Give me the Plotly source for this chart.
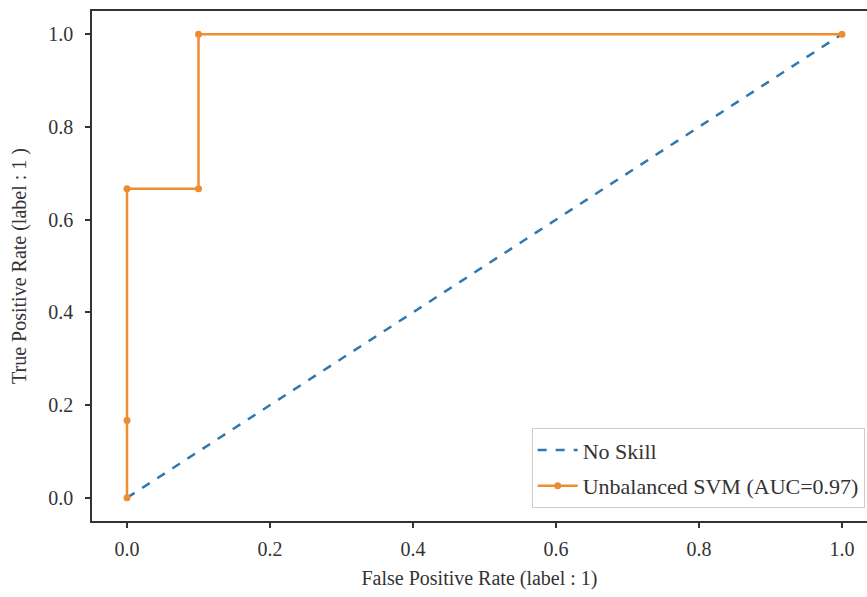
import plotly.graph_objects as go

# Data
noskill_fpr = [0.0, 1.0]
noskill_tpr = [0.0, 1.0]
svm_fpr = [0.0, 0.0, 0.0, 0.1, 0.1, 1.0]
svm_tpr = [0.0, 1/6, 2/3, 2/3, 1.0, 1.0]
tick_vals = [0.0, 0.2, 0.4, 0.6, 0.8, 1.0]
tick_text = ["0.0", "0.2", "0.4", "0.6", "0.8", "1.0"]

FONT = "Liberation Serif"
BLUE = "#2f78b0"
ORANGE = "#ee8c32"

fig = go.Figure()
fig.add_trace(go.Scatter(
    x=noskill_fpr, y=noskill_tpr, mode="lines", name="No Skill",
    legendgroup="a",
    line=dict(color=BLUE, width=2.5, dash="dash"),
))
fig.add_trace(go.Scatter(
    x=svm_fpr, y=svm_tpr, mode="lines+markers", name="Unbalanced SVM (AUC=0.97)",
    legendgroup="b",
    line=dict(color=ORANGE, width=2.5),
    marker=dict(color=ORANGE, size=7),
))

axis_common = dict(
    tickmode="array", tickvals=tick_vals, ticktext=tick_text,
    ticks="outside", ticklen=5, tickwidth=1.5, tickcolor="#333333",
    showgrid=False, zeroline=False,
    showline=True, linecolor="#333333", linewidth=1.5,
    tickfont=dict(family=FONT, size=20, color="#333333"),
)

fig.update_layout(
    width=867, height=597,
    margin=dict(l=92, r=0, t=11, b=76),
    paper_bgcolor="white", plot_bgcolor="white",
    font=dict(family=FONT, size=20, color="#333333"),
    xaxis=dict(range=[-0.049, 1.035], mirror=True, ticklabelstandoff=4,
               title=dict(text="False Positive Rate (label : 1)", font=dict(family=FONT, size=20), standoff=12),
               **axis_common),
    yaxis=dict(range=[-0.05, 1.05], mirror=False, ticklabelstandoff=8,
               title=dict(text="True Positive Rate (label : 1 )", font=dict(family=FONT, size=20), standoff=16),
               **axis_common),
    legend=dict(
        x=0.997, y=0.025, xanchor="right", yanchor="bottom",
        bgcolor="rgba(255,255,255,0.85)", bordercolor="#cccccc", borderwidth=1,
        font=dict(family=FONT, size=22, color="#333333"),
        tracegroupgap=4, itemwidth=40,
    ),
    showlegend=True,
)

fig.write_html("out.html")
